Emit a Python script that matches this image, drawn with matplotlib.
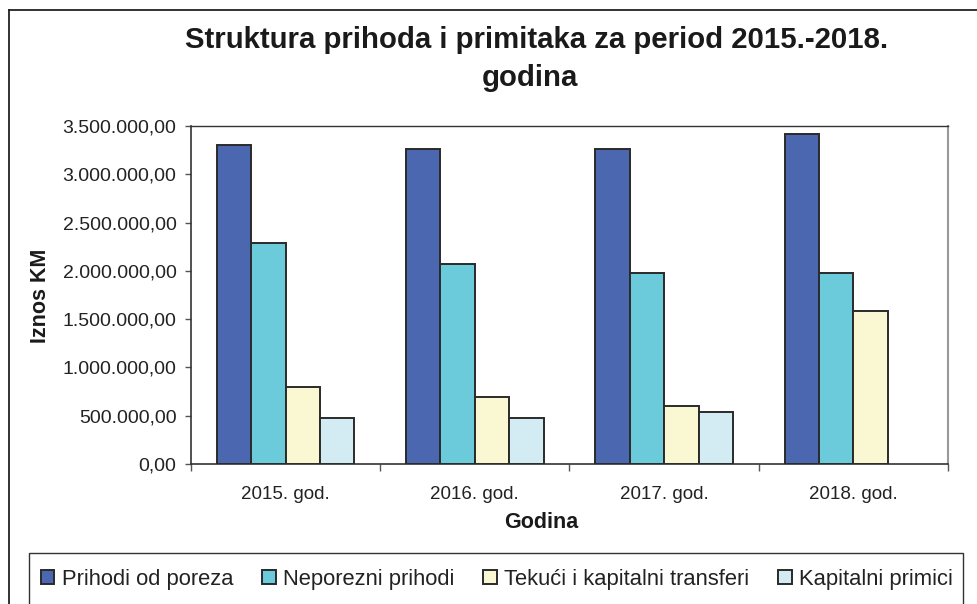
import numpy as np
import matplotlib
matplotlib.use("Agg")
import matplotlib.pyplot as plt
from matplotlib.lines import Line2D
from matplotlib.patches import Rectangle
from matplotlib.ticker import FuncFormatter, FixedLocator

plt.rcParams["font.family"] = ["Liberation Sans", "DejaVu Sans"]

# -- Data -------------------------------------------------------------
years = ["2015. god.", "2016. god.", "2017. god.", "2018. god."]
series_names = ["Prihodi od poreza", "Neporezni prihodi",
                "Tekući i kapitalni transferi", "Kapitalni primici"]
prihodi_od_poreza = [3305000, 3265000, 3265000, 3415000]
neporezni_prihodi = [2290000, 2070000, 1975000, 1975000]
tekuci_transferi = [800000, 690000, 600000, 1585000]
kapitalni_primici = [480000, 480000, 537000, 0]
colors = ["#4A67AF", "#6CCBDB", "#FAF8D2", "#D3ECF3"]

values = [prihodi_od_poreza, neporezni_prihodi, tekuci_transferi, kapitalni_primici]

W, H = 978, 604
fig = plt.figure(figsize=(W / 100, H / 100), dpi=100)
ax = fig.add_axes([191 / W, 1 - 464 / H, (948 - 191) / W, (464 - 126) / H])

x = np.arange(len(years))
bw = 1 / 5.5
for i, (vals, c, name) in enumerate(zip(values, colors, series_names)):
    offs = (i - 1.5) * bw
    # empty bars (value 0) get no outline, like in the original
    edges = ["#2a2a2a" if v > 0 else "none" for v in vals]
    ax.bar(x + offs, vals, width=bw, color=c, edgecolor=edges,
           linewidth=1.4, label=name, zorder=3)

ax.set_xlim(-0.5, 3.5)
ax.set_ylim(0, 3500000)
ax.set_yticks(np.arange(0, 3500001, 500000))


def fmt(v, pos):
    s = f"{v:,.2f}"
    return s.replace(",", "X").replace(".", ",").replace("X", ".")


ax.yaxis.set_major_formatter(FuncFormatter(fmt))
ax.tick_params(axis="y", direction="out", length=4.5, width=1, colors="#555555",
               labelcolor="#222222", labelsize=14, pad=6)

# x: ticks at category boundaries, labels at centres
ax.xaxis.set_major_locator(FixedLocator(np.arange(-0.5, 4, 1)))
ax.xaxis.set_minor_locator(FixedLocator(x))
ax.set_xticklabels([""] * 5)
ax.set_xticklabels(years, minor=True)
ax.tick_params(axis="x", which="major", direction="out", length=5, width=1,
               colors="#555555")
ax.tick_params(axis="x", which="minor", length=0, labelsize=13.5,
               labelcolor="#222222", pad=16)

for side in ["left", "bottom"]:
    ax.spines[side].set_color("#333333")
    ax.spines[side].set_linewidth(1.2)
ax.spines["top"].set_color("#333333")
ax.spines["top"].set_linewidth(1.0)
ax.spines["right"].set_color("#999999")
ax.spines["right"].set_linewidth(1.5)

# -- Titles -----------------------------------------------------------
fig.text(537 / W, 1 - 48 / H, "Struktura prihoda i primitaka za period 2015.-2018.",
         ha="center", va="baseline", fontsize=21.2, fontweight="bold", color="#1a1a1a")
fig.text(530 / W, 1 - 86 / H, "godina", ha="center", va="baseline",
         fontsize=21.2, fontweight="bold", color="#1a1a1a")
fig.text(41 / W, 1 - 296 / H, "Iznos KM", ha="center", va="center", rotation=90,
         fontsize=15.5, fontweight="bold", color="#1a1a1a")
fig.text(541 / W, 1 - 523 / H, "Godina", ha="center", va="center",
         fontsize=15.5, fontweight="bold", color="#1a1a1a")

# -- Outer frame and legend box ---------------------------------------
fig.add_artist(Line2D([9 / W, 9 / W], [1 - 10 / H, -0.1], transform=fig.transFigure,
                      color="#222222", lw=1.3))
fig.add_artist(Line2D([9 / W, 1.1], [1 - 10 / H, 1 - 10 / H], transform=fig.transFigure,
                      color="#222222", lw=1.3))
fig.add_artist(Rectangle((29 / W, -0.1), (963 - 29) / W, 0.1 + (604 - 553) / H,
                         transform=fig.transFigure, fill=False, edgecolor="#333333",
                         lw=1.0, clip_on=False))

handles, labels = ax.get_legend_handles_labels()
leg = fig.legend(handles, labels, loc="center", bbox_to_anchor=(497 / W, 1 - 579 / H),
                 ncol=4, frameon=False, fontsize=15.8, handlelength=0.62,
                 handleheight=0.62, handletextpad=0.35, columnspacing=1.3,
                 borderpad=0)
for t in leg.get_texts():
    t.set_color("#222222")

fig.savefig("out.png", dpi=100)
